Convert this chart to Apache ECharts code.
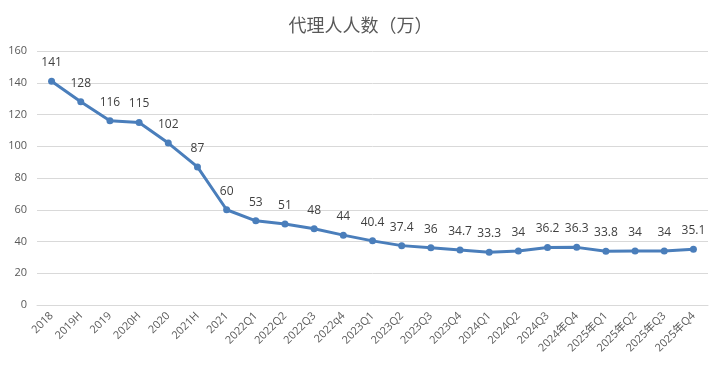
<!DOCTYPE html>
<html>
<head>
<meta charset="utf-8">
<script src="https://cdn.jsdelivr.net/npm/echarts@6/dist/echarts.min.js"></script>
<style>
  html, body { margin: 0; padding: 0; background: #fff; }
  #main { width: 721px; height: 376px; }
</style>
</head>
<body>
<div id="main"></div>
<script>
var categories = ['2018', '2019H', '2019', '2020H', '2020', '2021H', '2021', '2022Q1', '2022Q2', '2022Q3', '2022q4',
  '2023Q1', '2023Q2', '2023Q3', '2023Q4', '2024Q1', '2024Q2', '2024Q3', '2024年Q4', '2025年Q1', '2025年Q2', '2025年Q3', '2025年Q4'];
var agents = [141, 128, 116, 115, 102, 87, 60, 53, 51, 48, 44, 40.4, 37.4, 36, 34.7, 33.3, 34, 36.2, 36.3, 33.8, 34, 34, 35.1];

var chart = echarts.init(document.getElementById('main'));
chart.setOption({
  animation: false,
  textStyle: { fontFamily: '"Open Sans", "Noto Sans CJK SC", sans-serif' },
  title: {
    text: '代理人人数（万）',
    left: 'center',
    top: 11,
    textStyle: { color: '#595959', fontSize: 18, fontWeight: 'normal', fontFamily: '"Noto Sans CJK SC", sans-serif' }
  },
  grid: { left: 37, right: 13, top: 51, bottom: 71 },
  xAxis: {
    type: 'category',
    data: categories,
    axisTick: { show: false },
    axisLine: { lineStyle: { color: '#d9d9d9' } },
    axisLabel: { color: '#595959', fontSize: 11, rotate: 45, interval: 0, margin: 9 }
  },
  yAxis: {
    type: 'value',
    min: 0,
    max: 160,
    interval: 20,
    axisLine: { show: false },
    axisTick: { show: false },
    axisLabel: { color: '#595959', fontSize: 11, margin: 10 },
    splitLine: { lineStyle: { color: '#d9d9d9' } }
  },
  series: [{
    name: '代理人人数',
    type: 'line',
    data: agents,
    symbol: 'circle',
    symbolSize: 7,
    lineStyle: { color: '#4a7ebb', width: 3 },
    itemStyle: { color: '#4a7ebb' },
    label: { show: true, position: 'top', distance: 9, color: '#404040', fontSize: 12 }
  }]
});
</script>
</body>
</html>
